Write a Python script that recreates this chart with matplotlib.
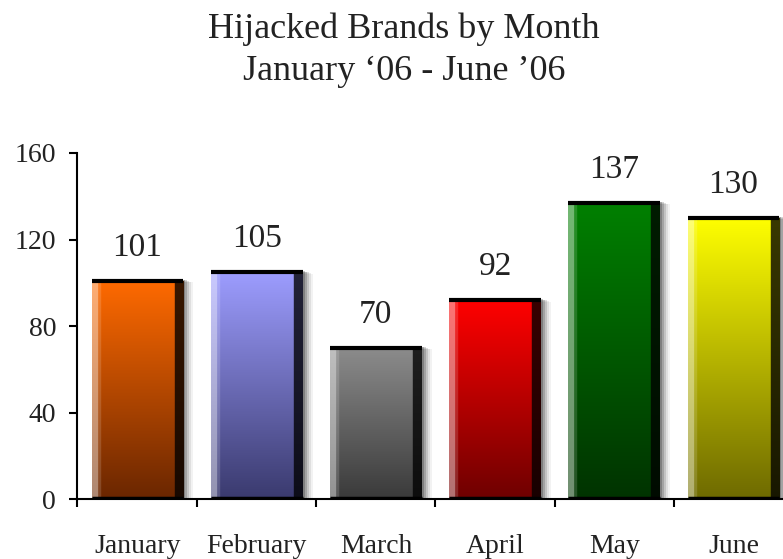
import numpy as np
import matplotlib
matplotlib.use("Agg")
import matplotlib.pyplot as plt
import matplotlib.transforms as mtransforms
from matplotlib.patches import Rectangle

months = ['January', 'February', 'March', 'April', 'May', 'June']
hijacked = [101, 105, 70, 92, 137, 130]
top_colors = ['#ff6a00', '#9d9dff', '#8c8c8c', '#ff0000', '#008000', '#ffff00']
bottom_colors = ['#6a2600', '#3a3a6e', '#3a3a3a', '#6e0000', '#003300', '#6e6a00']
y_ticks = [0, 40, 80, 120, 160]

plt.rcParams['font.family'] = ['Liberation Serif', 'DejaVu Serif']


def hex_rgb(c):
    return np.array(matplotlib.colors.to_rgb(c))


def bar_gradient(top, bottom, ny=200, nx=90):
    # vertical gradient, light strip on the left, dark strip on the right
    t = np.linspace(0, 1, ny)[:, None, None]
    img = top[None, None, :] * (1 - t) + bottom[None, None, :] * t
    img = np.repeat(img, nx, axis=1)
    xs = np.linspace(0, 1, nx)
    left = xs < 0.06
    img[:, left, :] = img[:, left, :] * 0.55 + 0.45
    ramp = (xs >= 0.06) & (xs < 0.1)
    img[:, ramp, :] = img[:, ramp, :] * 0.85 + 0.15
    right = xs > 0.9
    img[:, right, :] = img[:, right, :] * 0.22
    return np.clip(img, 0, 1)


def draw_chart():
    fig = plt.figure(figsize=(7.83, 5.59), dpi=100)
    ax = fig.add_axes([0.0983, 0.1073, 0.9017, 0.619])
    x = np.arange(len(months))
    width = 0.77
    bars = ax.bar(x, hijacked, width, color=top_colors, zorder=3)

    for i, b in enumerate(bars):
        x0, h = b.get_x(), b.get_height()
        # soft shadow to the lower right
        for k, a in zip([10, 8, 6, 4, 2], [0.05, 0.08, 0.12, 0.16, 0.22]):
            off = mtransforms.ScaledTranslation(k / 100.0, -k / 300.0, fig.dpi_scale_trans)
            sh = Rectangle((x0, 0), width, h + 0.8, facecolor='black', alpha=a,
                           edgecolor='none', transform=ax.transData + off, zorder=2)
            ax.add_patch(sh)
        img = bar_gradient(hex_rgb(top_colors[i]), hex_rgb(bottom_colors[i]))
        im = ax.imshow(img, extent=(x0, x0 + width, 0, h), aspect='auto',
                       origin='upper', zorder=4, interpolation='bilinear')
        im.set_clip_path(b)
        ax.plot([x0, x0 + width], [h, h], color='black', lw=3, zorder=5,
                solid_capstyle='butt')
        ax.plot([x0, x0 + width], [0.7, 0.7], color='black', lw=2.5, zorder=5,
                solid_capstyle='butt')
        ax.annotate(str(hijacked[i]), (x[i], h), xytext=(0, 13),
                    textcoords='offset points', ha='center', va='bottom',
                    fontsize=24, color='#222222')

    ax.set_xlim(-0.507, 5.415)
    ax.set_ylim(0, 160)
    ax.set_yticks(y_ticks)
    ax.set_xticks(x)
    ax.set_xticklabels(months)
    ax.set_xticks([-0.507, 0.5, 1.5, 2.5, 3.5, 4.5], minor=True)
    ax.tick_params(axis='x', which='major', length=0, pad=25, labelsize=20,
                   labelcolor='#222222')
    ax.tick_params(axis='x', which='minor', length=6, width=1.5, direction='out')
    ax.tick_params(axis='y', length=6, width=1.5, pad=9, labelsize=20,
                   labelcolor='#222222')
    for s in ['top', 'right']:
        ax.spines[s].set_visible(False)
    ax.spines['left'].set_linewidth(1.5)
    ax.spines['bottom'].set_linewidth(1.5)
    ax.spines['bottom'].set_zorder(6)

    fig.text(0.516, 0.947, 'Hijacked Brands by Month', ha='center', va='center',
             fontsize=26, color='#222222')
    fig.text(0.516, 0.872, 'January \u201806 - June \u201906', ha='center', va='center',
             fontsize=26, color='#222222')
    fig.savefig('out.png', dpi=100)


def main():
    draw_chart()


if __name__ == "__main__":
    main()
